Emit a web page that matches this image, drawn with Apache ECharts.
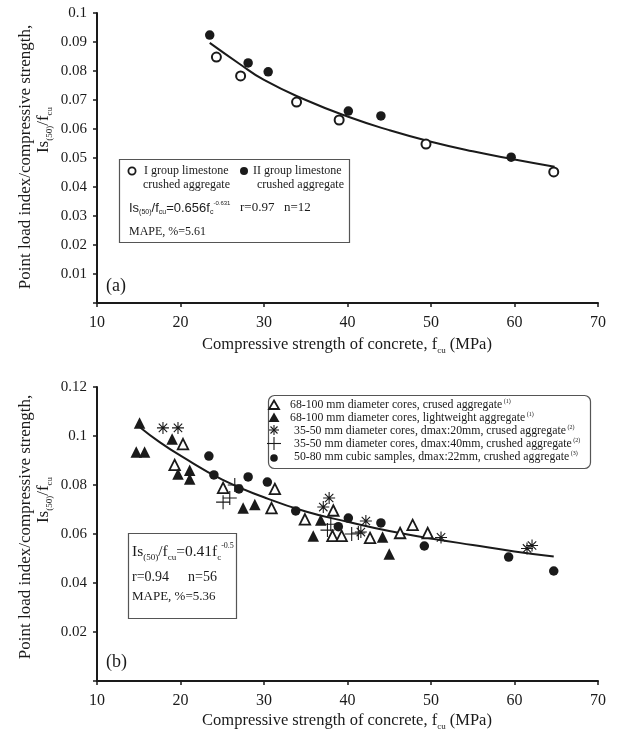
<!DOCTYPE html>
<html>
<head>
<meta charset="utf-8">
<script src="https://cdn.jsdelivr.net/npm/echarts@6/dist/echarts.min.js"></script>
<style>
html, body { margin: 0; padding: 0; background: #fff; }
#chart { width: 618px; height: 740px; }
</style>
</head>
<body>
<div id="chart"></div>
<script>
// ticks
const xTicks = [10, 20, 30, 40, 50, 60, 70]
const yLabelsA = ['', '0.01', '0.02', '0.03', '0.04', '0.05', '0.06', '0.07', '0.08', '0.09', '0.1']
const yLabelsB = ['', '0.02', '0.04', '0.06', '0.08', '0.1', '0.12']

// panel (a): [fcu, Is(50)/fcu]
const groupI = [[24.3, 0.0848], [27.2, 0.0783], [33.9, 0.0693], [39.0, 0.0631], [49.4, 0.0548], [64.7, 0.0452]]
const groupII = [[23.5, 0.0924], [28.1, 0.0828], [30.5, 0.0797], [40.1, 0.0662], [44.0, 0.0645], [59.6, 0.0503]]
const fitA = [[23.5, 0.0897], [27, 0.0826], [30, 0.0769], [35, 0.0700], [40, 0.0643], [45, 0.0596],
  [50, 0.0556], [55, 0.0523], [60, 0.0495], [64.8, 0.0470]]

// panel (b)
const openTri = [[19.3, 0.0882], [20.3, 0.0967], [25.1, 0.0788], [30.9, 0.0706], [31.3, 0.0784], [34.9, 0.0660],
  [38.3, 0.0696], [38.2, 0.0592], [39.3, 0.0592], [42.7, 0.0584], [46.3, 0.0604], [47.8, 0.0637], [49.6, 0.0604]]
const filledTri = [[15.1, 0.1053], [14.7, 0.0935], [15.7, 0.0935], [19.0, 0.0988], [19.7, 0.0845], [21.1, 0.0860],
  [21.1, 0.0824], [27.5, 0.0706], [28.9, 0.0720], [35.9, 0.0592], [36.8, 0.0657], [44.2, 0.0588], [45.0, 0.0518]]
const starPts = [[17.9, 0.1033], [19.7, 0.1033], [37.1, 0.0710], [37.8, 0.0747], [42.2, 0.0653], [41.6, 0.0608],
  [51.2, 0.0586], [61.5, 0.0541], [62.1, 0.0553]]
const plusPts = [[25.1, 0.0730], [25.9, 0.0747], [26.5, 0.0800], [37.6, 0.0616], [38.0, 0.0640], [40.5, 0.0600], [41.3, 0.0604]]
const cubic = [[23.4, 0.0918], [24.0, 0.0841], [27.0, 0.0784], [28.1, 0.0833], [30.4, 0.0812], [33.8, 0.0694],
  [38.9, 0.0630], [40.1, 0.0665], [44.0, 0.0645], [49.2, 0.0551], [59.3, 0.0506], [64.7, 0.0449]]
const fitB = [[15.1, 0.1037], [17.5, 0.0975], [20, 0.0920], [25, 0.0822], [30, 0.0750], [35, 0.0692],
  [40, 0.0650], [45, 0.0612], [50, 0.0582], [55, 0.0555], [60, 0.0529], [64.7, 0.0508]]

const legendB = [
  ['68-100 mm diameter cores, crused aggregate', '(1)'],
  ['68-100 mm diameter cores, lightweight aggregate', '(1)'],
  ['35-50 mm diameter cores, dmax:20mm, crused aggregate', '(2)'],
  ['35-50 mm diameter cores, dmax:40mm, crushed aggregate', '(2)'],
  ['50-80 mm cubic samples, dmax:22mm, crushed aggregate', '(3)']
]

const SERIF = 'Liberation Serif, Times New Roman, serif'
const SANS = 'Liberation Sans, Arial, sans-serif'
const INK = '#1a1a1a'
const STAR = 'path://M5 0L5 10M0 5L10 5M1.5 1.5L8.5 8.5M8.5 1.5L1.5 8.5'
const PLUS = 'path://M5 0L5 10M0 5L10 5'

const chart = echarts.init(document.getElementById('chart'))

function xAxis(gridIndex) {
  return {
    gridIndex, type: 'value', min: 10, max: 70, interval: 10,
    axisLine: { lineStyle: { color: INK, width: 2 } },
    axisTick: { length: 4, lineStyle: { color: INK, width: 1.5 } },
    axisLabel: { color: INK, fontFamily: SERIF, fontSize: 16, margin: 12 },
    splitLine: { show: false }
  }
}
function yAxis(gridIndex, max, interval, labels) {
  return {
    gridIndex, type: 'value', min: 0, max, interval,
    axisLine: { show: true, lineStyle: { color: INK, width: 2 } },
    axisTick: { show: true, length: 4, lineStyle: { color: INK, width: 1.5 } },
    axisLabel: {
      color: INK, fontFamily: SERIF, fontSize: 15, margin: 10,
      formatter: v => labels[Math.round(v / interval)] || ''
    },
    splitLine: { show: false }
  }
}

function scatter(idx, data, symbol, size, fill, border) {
  return {
    type: 'scatter', xAxisIndex: idx, yAxisIndex: idx, data, symbol, symbolSize: size,
    itemStyle: { color: fill, borderColor: INK, borderWidth: border, opacity: 1 }, z: 3
  }
}
function fit(idx, data) {
  return {
    type: 'line', xAxisIndex: idx, yAxisIndex: idx, data, smooth: true, showSymbol: false,
    lineStyle: { color: INK, width: 2 }, z: 2
  }
}

const richMain = size => ({
  m: { fontFamily: SERIF, fontSize: size, fill: INK, lineHeight: size + 4, verticalAlign: 'middle' },
  s: { fontFamily: SERIF, fontSize: Math.round(size * 0.55), fill: INK, lineHeight: Math.round(size * 0.55) + 1, verticalAlign: 'bottom' },
  p: { fontFamily: SERIF, fontSize: Math.round(size * 0.5), fill: INK, lineHeight: Math.round(size * 0.5) + 2, verticalAlign: 'top' }
})

function label(x, y, text, rich, align, rotation) {
  return {
    type: 'text', x, y, rotation: rotation || 0, z: 6,
    style: { text, rich, align: align || 'left', verticalAlign: 'middle', fill: INK }
  }
}
function plain(x, y, text, size, family) {
  return label(x, y, '{t|' + text + '}', { t: { fontFamily: family || SERIF, fontSize: size, fill: INK } })
}
function seg(x1, y1, x2, y2) {
  return { type: 'line', shape: { x1, y1, x2, y2 }, style: { stroke: INK, lineWidth: 1.1 }, z: 6 }
}

const yTitle = '{m|Point load index/compressive strength,}'
const yTitle2 = '{m|Is}{s|(50)}{m|/f}{s|cu}'
const xTitle = '{m|Compressive strength of concrete, f}{s|cu}{m| (MPa)}'

const graphics = [
  // axis titles
  label(26, 157, yTitle, richMain(17), 'center', Math.PI / 2),
  label(44, 130, yTitle2, richMain(17), 'center', Math.PI / 2),
  label(347, 345, xTitle, richMain(16.5), 'center'),
  label(26, 527, yTitle, richMain(17), 'center', Math.PI / 2),
  label(44, 500, yTitle2, richMain(17), 'center', Math.PI / 2),
  label(347, 721, xTitle, richMain(16.5), 'center'),
  label(106, 286, '{m|(a)}', richMain(18)),
  label(106, 662, '{m|(b)}', richMain(18)),

  // legend box (a)
  { type: 'rect', shape: { x: 119.5, y: 159.5, width: 230, height: 83 }, style: { fill: '#fff', stroke: '#555', lineWidth: 1.2 }, z: 5 },
  { type: 'circle', shape: { cx: 132, cy: 171, r: 3.6 }, style: { fill: '#fff', stroke: INK, lineWidth: 1.8 }, z: 6 },
  { type: 'circle', shape: { cx: 244, cy: 171, r: 4 }, style: { fill: INK }, z: 6 },
  plain(144, 171, 'I group limestone', 12),
  plain(143, 185, 'crushed aggregate', 12),
  plain(253, 171, 'II group limestone', 12),
  plain(257, 185, 'crushed aggregate', 12),
  label(129, 208, '{m|Is}{s|(50)}{m|/f}{s|cu}{m|=0.656f}{s|c}{p|-0.631}', {
    m: { fontFamily: SANS, fontSize: 13, fill: INK, lineHeight: 16 },
    s: { fontFamily: SANS, fontSize: 7, fill: INK, lineHeight: 9, verticalAlign: 'bottom' },
    p: { fontFamily: SANS, fontSize: 6, fill: INK, lineHeight: 8, verticalAlign: 'top' }
  }),
  plain(240, 208, 'r=0.97', 13),
  plain(284, 208, 'n=12', 13),
  plain(129, 232, 'MAPE, %=5.61', 12),

  // legend box (b)
  { type: 'rect', shape: { x: 268.5, y: 395.5, width: 322, height: 73, r: 6 }, style: { fill: '#fff', stroke: '#555', lineWidth: 1.2 }, z: 5 },
  { type: 'polygon', shape: { points: [[274, 400.5], [279, 409], [269, 409]] }, style: { fill: '#fff', stroke: INK, lineWidth: 1.8 }, z: 6 },
  { type: 'polygon', shape: { points: [[274, 412.5], [279.5, 422], [268.5, 422]] }, style: { fill: INK }, z: 6 },
  seg(274, 425, 274, 435), seg(269, 430, 279, 430), seg(270.5, 426.5, 277.5, 433.5), seg(277.5, 426.5, 270.5, 433.5),
  seg(274, 437, 274, 450), seg(267, 443.5, 281, 443.5),
  { type: 'circle', shape: { cx: 274, cy: 458, r: 3.8 }, style: { fill: INK }, z: 6 }
]

legendB.forEach((row, i) => {
  graphics.push(label(i < 2 ? 290 : 294, 405 + i * 13, '{t|' + row[0] + '}{u| ' + row[1] + '}', {
    t: { fontFamily: SERIF, fontSize: 11.8, fill: INK, lineHeight: 13 },
    u: { fontFamily: SERIF, fontSize: 6, fill: INK, lineHeight: 7, verticalAlign: 'top' }
  }))
})

// formula box (b)
graphics.push(
  { type: 'rect', shape: { x: 128.5, y: 533.5, width: 108, height: 85 }, style: { fill: '#fff', stroke: '#555', lineWidth: 1.2 }, z: 5 },
  label(132, 552, '{m|Is}{s|(50)}{m|/f}{s|cu}{m|=0.41f}{s|c}{p|-0.5}', richMain(15.5)),
  plain(132, 577, 'r=0.94', 14),
  plain(188, 577, 'n=56', 14),
  plain(132, 597, 'MAPE, %=5.36', 13)
)

const option = {
  animation: false,
  backgroundColor: '#fff',
  grid: [
    { left: 97, right: 20, top: 13, height: 290 },
    { left: 97, right: 20, top: 387, height: 294 }
  ],
  xAxis: [xAxis(0), xAxis(1)],
  yAxis: [yAxis(0, 0.1, 0.01, yLabelsA), yAxis(1, 0.12, 0.02, yLabelsB)],
  series: [
    fit(0, fitA),
    scatter(0, groupI, 'circle', 9, '#fff', 2),
    scatter(0, groupII, 'circle', 9.5, INK, 0),
    fit(1, fitB),
    scatter(1, openTri, 'triangle', 10.5, '#fff', 1.8),
    scatter(1, filledTri, 'triangle', 11.5, INK, 0),
    scatter(1, starPts, STAR, 12, 'rgba(0,0,0,0)', 1.1),
    scatter(1, plusPts, PLUS, 14, 'rgba(0,0,0,0)', 1.1),
    scatter(1, cubic, 'circle', 9.5, INK, 0)
  ],
  graphic: graphics
}

chart.setOption(option)
</script>
</body>
</html>
